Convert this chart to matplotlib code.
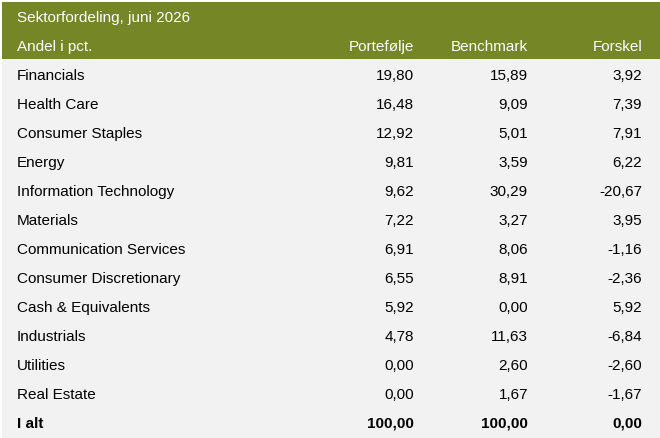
import matplotlib
matplotlib.use("Agg")
import matplotlib.pyplot as plt
from matplotlib.patches import Rectangle

title = "Sektorfordeling, juni 2026"
columns = ["Andel i pct.", "Portefølje", "Benchmark", "Forskel"]
sectors = ["Financials", "Health Care", "Consumer Staples", "Energy",
           "Information Technology", "Materials", "Communication Services",
           "Consumer Discretionary", "Cash & Equivalents", "Industrials",
           "Utilities", "Real Estate"]
portefolje = [19.80, 16.48, 12.92, 9.81, 9.62, 7.22, 6.91, 6.55, 5.92, 4.78, 0.00, 0.00]
benchmark = [15.89, 9.09, 5.01, 3.59, 30.29, 3.27, 8.06, 8.91, 0.00, 11.63, 2.60, 1.67]
forskel = [3.92, 7.39, 7.91, 6.22, -20.67, 3.95, -1.16, -2.36, 5.92, -6.84, -2.60, -1.67]
total_label = "I alt"
totals = [100.00, 100.00, 0.00]


def fmt(v):
    return f"{v:.2f}".replace(".", ",")


plt.rcParams['font.family'] = ['Liberation Sans', 'DejaVu Sans']
fig = plt.figure(figsize=(6.6, 4.38), dpi=100)
ax = fig.add_axes([0, 0, 1, 1])
ax.set_xlim(0, 660)
ax.set_ylim(438, 0)
ax.axis('off')

green = '#748626'
ax.add_patch(Rectangle((2, 2), 658, 436, color='#f2f2f2', lw=0))
ax.add_patch(Rectangle((2, 2), 658, 57, color=green, lw=0))

fs = 11
left_x = 17
right_x = [414, 528, 642]

ax.text(left_x, 18, title, color='white', fontsize=fs, va='center', ha='left')
ax.text(left_x, 47, columns[0], color='white', fontsize=fs, va='center', ha='left')
for x, c in zip(right_x, columns[1:]):
    ax.text(x, 47, c, color='white', fontsize=fs, va='center', ha='right')

y0 = 76
step = 29
for i, name in enumerate(sectors):
    y = y0 + i * step
    ax.text(left_x, y, name, color='black', fontsize=fs, va='center', ha='left')
    for x, v in zip(right_x, [portefolje[i], benchmark[i], forskel[i]]):
        ax.text(x, y, fmt(v), color='black', fontsize=fs, va='center', ha='right')

y = y0 + len(sectors) * step
ax.text(left_x, y, total_label, color='black', fontsize=fs, va='center', ha='left', fontweight='bold')
for x, v in zip(right_x, totals):
    ax.text(x, y, fmt(v), color='black', fontsize=fs, va='center', ha='right', fontweight='bold')

fig.savefig("out.png", dpi=100)
